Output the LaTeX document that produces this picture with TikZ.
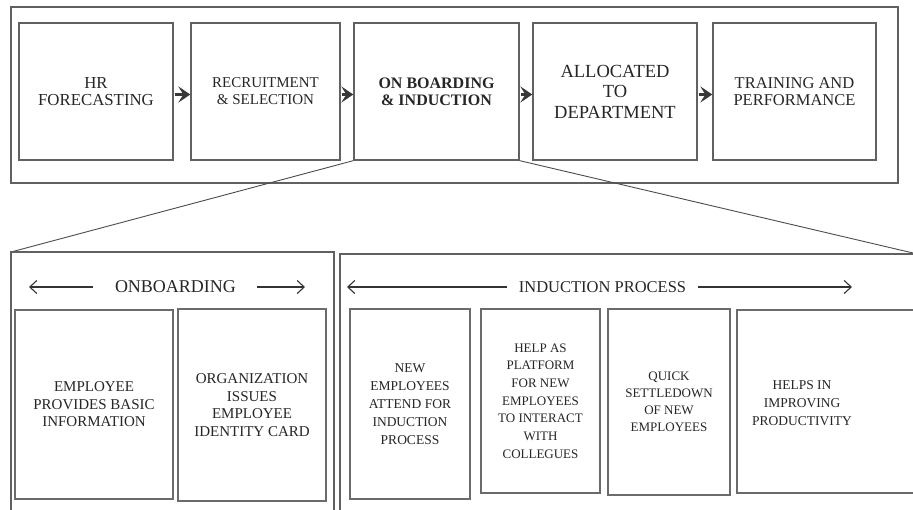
\documentclass[tikz,border=0pt]{standalone}
\usepackage{fontspec}
\setmainfont{Liberation Serif}
\usetikzlibrary{arrows.meta}
\newcommand{\fs}[2]{\fontsize{#1pt}{#2pt}\selectfont}
\begin{document}
\begin{tikzpicture}[x=1pt,y=-1pt,
  frame/.style={draw=black!62,line width=1.2pt},
  stage/.style={draw=black!62,line width=1.3pt,rectangle,inner sep=0pt,align=center,text=black!85},
  card/.style={draw=black!58,line width=1.4pt,rectangle,inner sep=0pt,align=center,text=black!85},
  label/.style={inner sep=0pt,align=center,text=black!85},
  flow/.style={-{Stealth[length=12pt,width=16pt,inset=5pt]},line width=3pt,draw=black!78},
  span/.style={-{Straight Barb[length=7pt,width=13pt]},line width=1.1pt,draw=black!80},
  zoomline/.style={draw=black!70,line width=0.9pt}]
\useasboundingbox (0,0) rectangle (913,509);
\fill[white] (0,0) rectangle (913,509);
\clip (0,0) rectangle (913,509);

% ---------- recruitment pipeline ----------
\draw[frame] (11,7) rectangle (898,183);
\node[stage,minimum width=154pt,minimum height=137pt,font=\fs{16.8}{17}] (t1) at (96,91.5) {HR\\FORECASTING};
\node[stage,minimum width=149pt,minimum height=137pt,font=\fs{15}{17}] (t2) at (265.5,91.5) {RECRUITMENT\\\& SELECTION};
\node[stage,minimum width=165pt,minimum height=137pt,font=\bfseries\fs{16}{17}] (t3) at (436.5,91.5) {ON BOARDING\\\& INDUCTION};
\node[stage,minimum width=164pt,minimum height=137pt,font=\fs{18.5}{20.5}] (t4) at (615,91.5) {ALLOCATED\\TO\\DEPARTMENT};
\node[stage,minimum width=163pt,minimum height=137pt,font=\fs{16.5}{17}] (t5) at (794.5,91.5) {TRAINING AND\\PERFORMANCE};

\draw[flow] ([yshift=-3pt,xshift=1pt]t1.east) -- ([yshift=-3pt]t2.west);
\draw[flow] ([yshift=-3pt,xshift=1pt]t2.east) -- ([yshift=-3pt]t3.west);
\draw[flow] ([yshift=-3pt,xshift=1pt]t3.east) -- ([yshift=-3pt]t4.west);
\draw[flow] ([yshift=-3pt,xshift=1pt]t4.east) -- ([yshift=-3pt]t5.west);

% ---------- expansion of the on-boarding stage ----------
\coordinate (zl) at (11,252);
\coordinate (zr) at (913,253);
\draw[zoomline] (t3.south west) -- (zl);
\draw[zoomline] (t3.south east) -- (zr);

% ---------- onboarding panel ----------
\draw[frame] (11,520) -- (11,252) -- (334,252) -- (334,520);
\node[label,font=\fs{18}{18}] (onlab) at (175.5,287) {ONBOARDING};
\coordinate (onL) at (29,287);
\coordinate (onR) at (305,287);
\draw[span] ([xshift=-22pt]onlab.west) -- (onL);
\draw[span] ([xshift=21pt]onlab.east) -- (onR);

\node[card,minimum width=158pt,minimum height=189pt,font=\fs{15}{17.5}] (a) at (94,404.5) {EMPLOYEE\\PROVIDES BASIC\\INFORMATION};
\node[card,minimum width=148pt,minimum height=192pt,font=\fs{15}{17.7}] (b) at (252,405) {ORGANIZATION\\ISSUES\\EMPLOYEE\\IDENTITY CARD};

% ---------- induction panel ----------
\draw[frame] (340,520) -- (340,254) -- (920,254);
\node[label,font=\fs{16.5}{17}] (inlab) at (602.5,287) {INDUCTION PROCESS};
\coordinate (inL) at (347,287);
\coordinate (inR) at (852,287);
\draw[span] ([xshift=-12pt]inlab.west) -- (inL);
\draw[span] ([xshift=12pt]inlab.east) -- (inR);

\node[card,minimum width=120pt,minimum height=190pt,font=\fs{13.5}{18}] (c1) at (410,404) {NEW\\EMPLOYEES\\ATTEND FOR\\INDUCTION\\PROCESS};
\node[card,minimum width=119pt,minimum height=184pt,font=\fs{13}{17.7}] (c2) at (540.5,401) {HELP AS\\PLATFORM\\FOR NEW\\EMPLOYEES\\TO INTERACT\\WITH\\COLLEGUES};
\node[card,minimum width=122pt,minimum height=186pt,font=\fs{13}{17}] (c3) at (669,402) {QUICK\\SETTLEDOWN\\OF NEW\\EMPLOYEES};
\draw[draw=black!58,line width=1.4pt] (920,310) -- (737,310) -- (737,493) -- (920,493);
\node[label,font=\fs{13.5}{18}] (c4) at (802,403) {HELPS IN\\IMPROVING\\PRODUCTIVITY};
\end{tikzpicture}
\end{document}
